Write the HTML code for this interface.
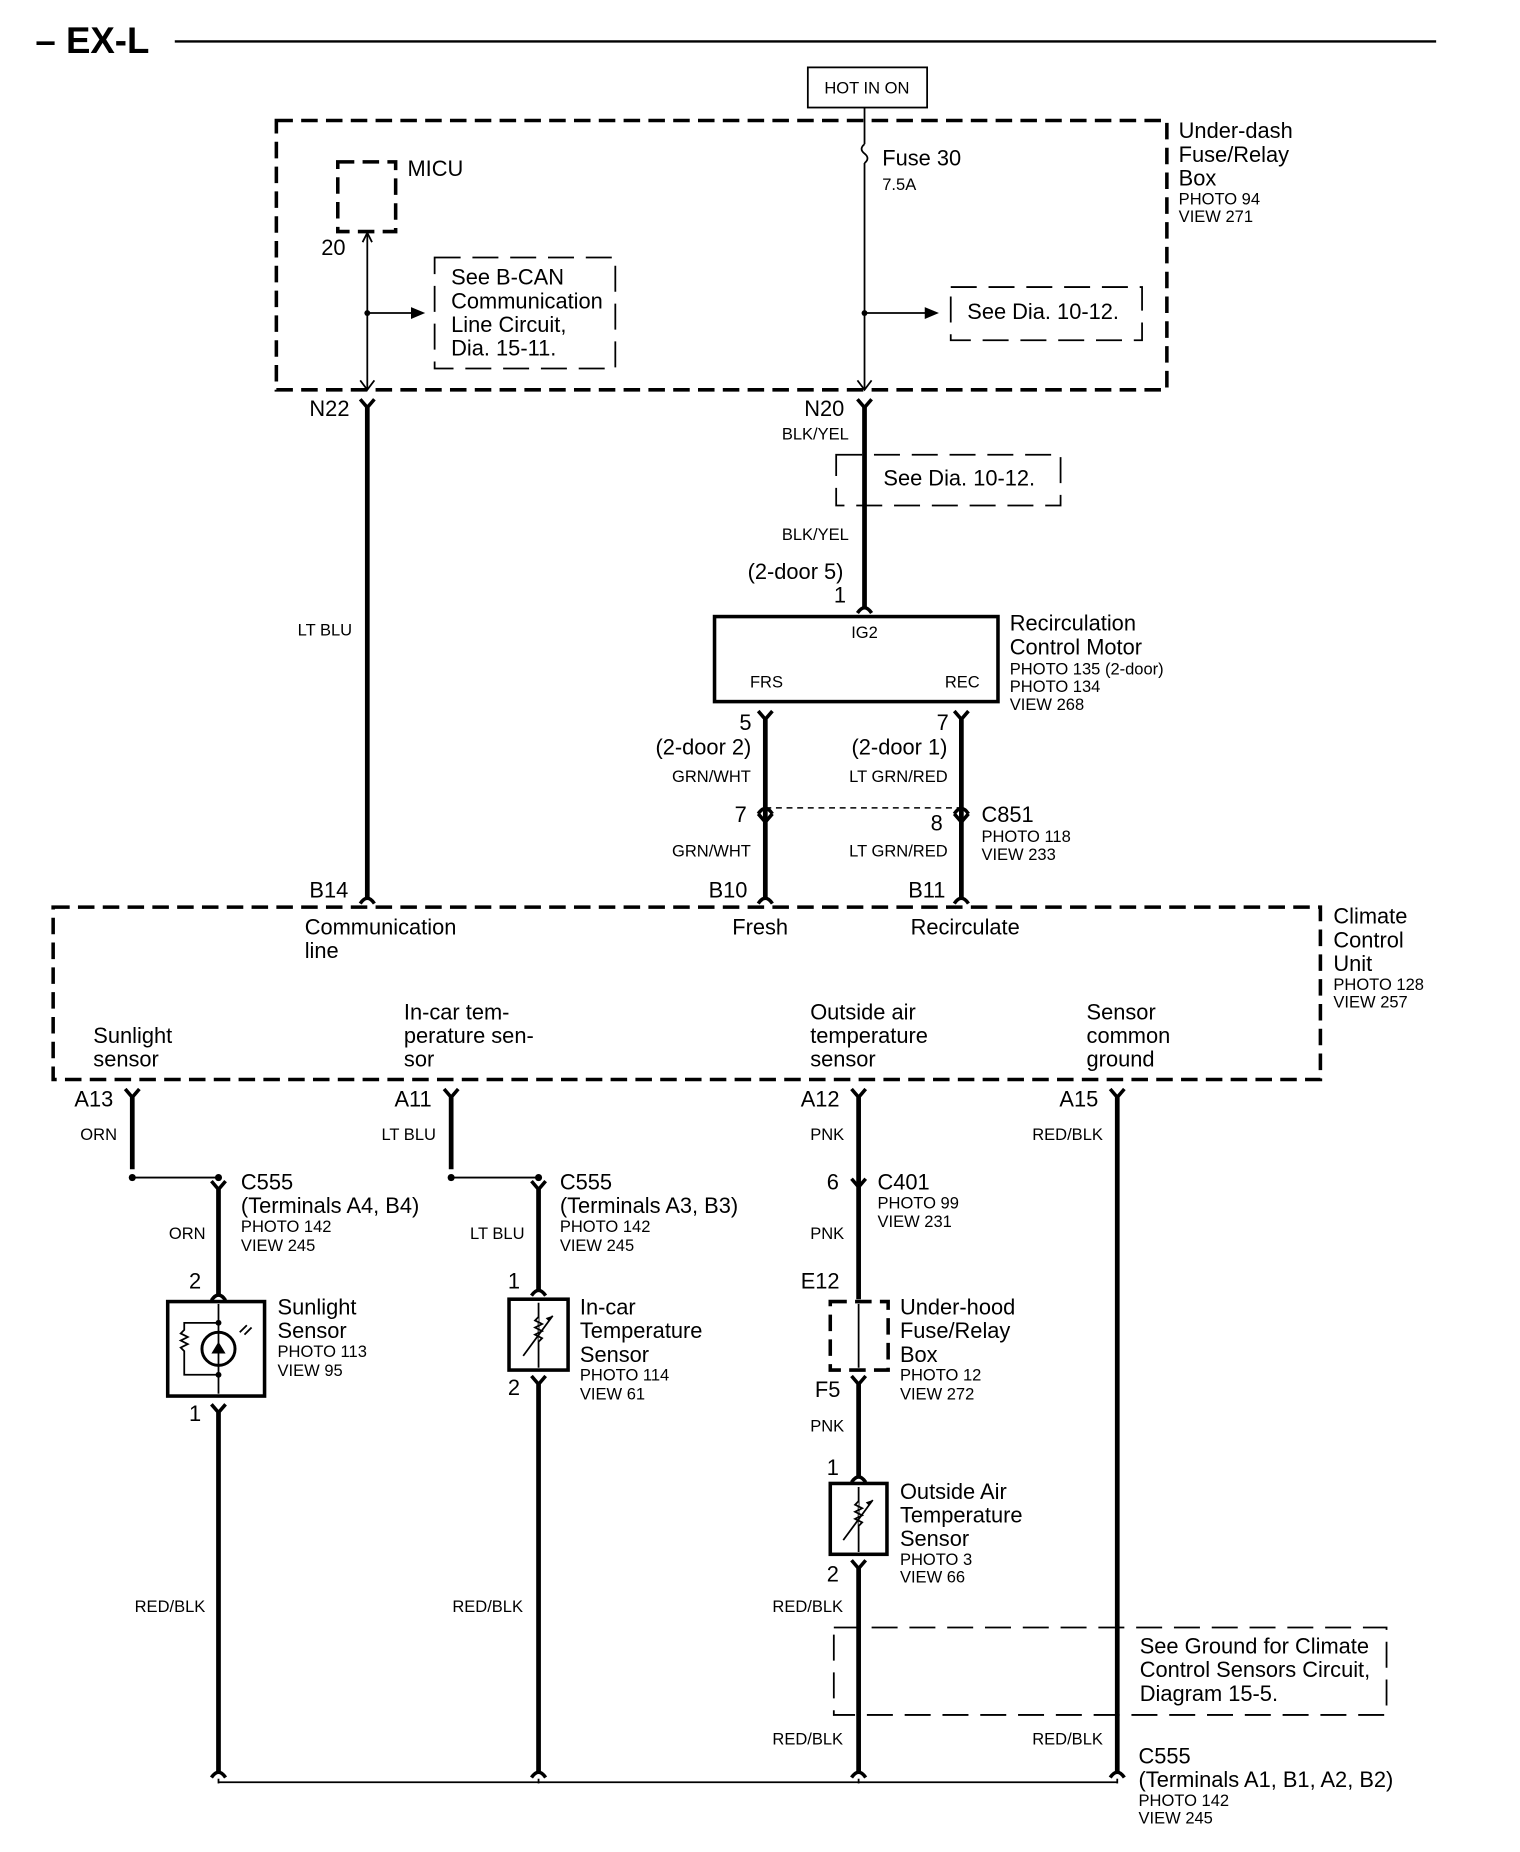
<!DOCTYPE html>
<html><head><meta charset="utf-8"><style>
html,body{margin:0;padding:0;background:#fff}
svg{display:block}
text{font-family:"Liberation Sans",Arial,sans-serif;fill:#000}
.l{font-size:18.5px}.s{font-size:14px}
.th{stroke:#000;stroke-width:4;fill:none}
.tn{stroke:#000;stroke-width:1.5;fill:none}
.db{stroke:#000;stroke-width:3;fill:none;stroke-dasharray:14 7}
.dn{stroke:#000;stroke-width:1.5;fill:none;stroke-dasharray:22 10}
.y{stroke:#000;stroke-width:3;fill:none}
</style></head><body>
<svg width="1520" height="1852" viewBox="0 0 1287 1568" xmlns="http://www.w3.org/2000/svg">
<defs>
<g id="Y"><path class="y" d="M-6,-7 L0,0 L6,-7"/></g>
<g id="A"><path class="y" d="M-6,5 Q0,-4 6,5"/></g>
<g id="ar"><path d="M0,0 L-4,8 M0,0 L4,8" stroke="#000" stroke-width="1.5" fill="none"/></g>
</defs>
<text x="30" y="45" style="font-size:31px;font-weight:bold">– EX-L</text>
<line x1="148" y1="35" x2="1216" y2="35" stroke="#000" stroke-width="2"/>
<rect x="684" y="57" width="101" height="34" class="tn"/>
<text x="734" y="79" class="s" text-anchor="middle">HOT IN ON</text>
<rect x="234" y="102" width="754" height="228" class="db"/>
<text x="998" y="117" class="l">Under-dash</text><text x="998" y="137" class="l">Fuse/Relay</text><text x="998" y="157" class="l">Box</text>
<text x="998" y="173" class="s">PHOTO 94</text><text x="998" y="188" class="s">VIEW 271</text>
<rect x="286" y="137" width="49" height="59" class="db"/>
<text x="345" y="149" class="l">MICU</text>
<text x="272" y="216" class="l">20</text>
<line x1="311" y1="196" x2="311" y2="330" class="tn"/>
<use href="#ar" x="311" y="197"/>
<path d="M305,322 L311,330 L317,322" class="tn"/>
<circle cx="311" cy="265" r="2.5"/>
<line x1="311" y1="265" x2="350" y2="265" class="tn"/><path d="M348,260 L360,265 L348,270Z"/>
<rect x="368" y="218" width="153" height="94" class="dn"/>
<text x="382" y="241" class="l">See B-CAN</text><text x="382" y="261" class="l">Communication</text><text x="382" y="281" class="l">Line Circuit,</text><text x="382" y="301" class="l">Dia. 15-11.</text>
<line x1="732" y1="91" x2="732" y2="122" class="tn"/>
<path d="M732,122 q-5,4 0,8 q5,4 0,8" class="tn"/>
<line x1="732" y1="138" x2="732" y2="330" class="tn"/>
<path d="M726,322 L732,330 L738,322" class="tn"/>
<text x="747" y="140" class="l">Fuse 30</text><text x="747" y="161" class="s">7.5A</text>
<circle cx="732" cy="265" r="2.5"/>
<line x1="732" y1="265" x2="785" y2="265" class="tn"/><path d="M783,260 L795,265 L783,270Z"/>
<rect x="805" y="243" width="162" height="45" class="dn"/>
<text x="819" y="270" class="l">See Dia. 10-12.</text>
<text x="262" y="352" class="l">N22</text><text x="681" y="352" class="l">N20</text>
<use href="#Y" x="311" y="345"/><line x1="311" y1="345" x2="311" y2="760" class="th"/>
<text x="252" y="538" class="s">LT BLU</text>
<use href="#Y" x="732" y="345"/><line x1="732" y1="345" x2="732" y2="516" class="th"/>
<text x="662" y="372" class="s">BLK/YEL</text>
<rect x="708" y="385" width="190" height="43" class="dn"/>
<text x="748" y="411" class="l">See Dia. 10-12.</text>
<text x="662" y="457" class="s">BLK/YEL</text>
<text x="633" y="490" class="l">(2-door 5)</text><text x="706" y="510" class="l">1</text>
<use href="#A" x="732" y="514"/>
<rect x="605" y="522" width="240" height="72" stroke="#000" stroke-width="3" fill="none"/>
<text x="732" y="540" class="s" text-anchor="middle">IG2</text>
<text x="635" y="582" class="s">FRS</text><text x="800" y="582" class="s">REC</text>
<text x="855" y="534" class="l">Recirculation</text><text x="855" y="554" class="l">Control Motor</text>
<text x="855" y="571" class="s">PHOTO 135 (2-door)</text><text x="855" y="586" class="s">PHOTO 134</text><text x="855" y="601" class="s">VIEW 268</text>
<use href="#Y" x="648" y="609"/><line x1="648" y1="609" x2="648" y2="760" class="th"/>
<use href="#Y" x="814" y="609"/><line x1="814" y1="609" x2="814" y2="760" class="th"/>
<text x="626" y="618" class="l">5</text><text x="555" y="639" class="l">(2-door 2)</text><text x="569" y="662" class="s">GRN/WHT</text>
<text x="793" y="618" class="l">7</text><text x="721" y="639" class="l">(2-door 1)</text><text x="719" y="662" class="s">LT GRN/RED</text>
<line x1="648" y1="684" x2="814" y2="684" stroke="#000" stroke-width="1.2" stroke-dasharray="5 4"/>
<use href="#A" x="648" y="684"/><use href="#A" x="814" y="684"/>
<use href="#Y" x="648" y="696"/><use href="#Y" x="814" y="696"/>
<text x="622" y="696" class="l">7</text><text x="788" y="703" class="l">8</text>
<text x="831" y="696" class="l">C851</text><text x="831" y="713" class="s">PHOTO 118</text><text x="831" y="728" class="s">VIEW 233</text>
<text x="569" y="725" class="s">GRN/WHT</text><text x="719" y="725" class="s">LT GRN/RED</text>
<text x="262" y="760" class="l">B14</text><text x="600" y="760" class="l">B10</text><text x="769" y="760" class="l">B11</text>
<use href="#A" x="311" y="760"/><use href="#A" x="648" y="760"/><use href="#A" x="814" y="760"/>
<rect x="45" y="768" width="1073" height="146" class="db"/>
<text x="258" y="791" class="l">Communication</text><text x="258" y="811" class="l">line</text>
<text x="620" y="791" class="l">Fresh</text><text x="771" y="791" class="l">Recirculate</text>
<text x="1129" y="782" class="l">Climate</text><text x="1129" y="802" class="l">Control</text><text x="1129" y="822" class="l">Unit</text>
<text x="1129" y="838" class="s">PHOTO 128</text><text x="1129" y="853" class="s">VIEW 257</text>
<text x="79" y="883" class="l">Sunlight</text><text x="79" y="903" class="l">sensor</text>
<text x="342" y="863" class="l">In-car tem-</text><text x="342" y="883" class="l">perature sen-</text><text x="342" y="903" class="l">sor</text>
<text x="686" y="863" class="l">Outside air</text><text x="686" y="883" class="l">temperature</text><text x="686" y="903" class="l">sensor</text>
<text x="920" y="863" class="l">Sensor</text><text x="920" y="883" class="l">common</text><text x="920" y="903" class="l">ground</text>
<text x="63" y="937" class="l">A13</text><text x="334" y="937" class="l">A11</text><text x="678" y="937" class="l">A12</text><text x="897" y="937" class="l">A15</text>
<use href="#Y" x="112" y="929"/><line x1="112" y1="929" x2="112" y2="990" class="th"/>
<use href="#Y" x="382" y="929"/><line x1="382" y1="929" x2="382" y2="990" class="th"/>
<use href="#Y" x="727" y="929"/><line x1="727" y1="929" x2="727" y2="1100" class="th"/>
<use href="#Y" x="946" y="929"/><line x1="946" y1="929" x2="946" y2="1500" class="th"/>
<text x="68" y="965" class="s">ORN</text><text x="323" y="965" class="s">LT BLU</text><text x="686" y="965" class="s">PNK</text><text x="874" y="965" class="s">RED/BLK</text>
<line x1="112" y1="997" x2="185" y2="997" class="tn"/><circle cx="112" cy="997" r="3"/>
<line x1="382" y1="997" x2="456" y2="997" class="tn"/><circle cx="382" cy="997" r="3"/>
<circle cx="185" cy="997" r="3"/><use href="#Y" x="185" y="1007"/>
<circle cx="456" cy="997" r="3"/><use href="#Y" x="456" y="1007"/>
<text x="204" y="1007" class="l">C555</text><text x="204" y="1027" class="l">(Terminals A4, B4)</text><text x="204" y="1043" class="s">PHOTO 142</text><text x="204" y="1059" class="s">VIEW 245</text>
<text x="474" y="1007" class="l">C555</text><text x="474" y="1027" class="l">(Terminals A3, B3)</text><text x="474" y="1043" class="s">PHOTO 142</text><text x="474" y="1059" class="s">VIEW 245</text>
<line x1="185" y1="1007" x2="185" y2="1096" class="th"/><use href="#A" x="185" y="1096"/>
<line x1="456" y1="1007" x2="456" y2="1092" class="th"/><use href="#A" x="456" y="1092"/>
<text x="143" y="1049" class="s">ORN</text><text x="398" y="1049" class="s">LT BLU</text>
<text x="160" y="1091" class="l">2</text><text x="430" y="1091" class="l">1</text>
<rect x="142" y="1102" width="82" height="80" stroke="#000" stroke-width="3" fill="none"/>
<line x1="185" y1="1104" x2="185" y2="1180" class="tn"/>
<circle cx="185" cy="1142" r="14" stroke="#000" stroke-width="2.5" fill="#fff"/>
<path d="M179,1146 L191,1146 L185,1136Z M179,1136 L191,1136"/><line x1="185" y1="1128" x2="185" y2="1156" class="tn"/>
<path d="M185,1120 L156,1120 L156,1126 l-3,3 l6,3 l-6,3 l6,3 l-6,3 l3,3 L156,1164 L185,1164" class="tn"/>
<circle cx="185" cy="1120" r="2.5"/><circle cx="185" cy="1164" r="2.5"/>
<path d="M203,1128 l6,-6 M207,1130 l6,-6" class="tn"/>
<use href="#Y" x="185" y="1196"/><line x1="185" y1="1196" x2="185" y2="1500" class="th"/>
<text x="160" y="1203" class="l">1</text>
<text x="235" y="1113" class="l">Sunlight</text><text x="235" y="1133" class="l">Sensor</text><text x="235" y="1149" class="s">PHOTO 113</text><text x="235" y="1165" class="s">VIEW 95</text>
<rect x="431" y="1100" width="50" height="60" stroke="#000" stroke-width="3" fill="none"/>
<line x1="456" y1="1103" x2="456" y2="1158" class="tn"/>
<path d="M456,1115 l-3,3 l6,3 l-6,3 l6,3 l-6,3 l6,3 l-3,3" stroke="#000" stroke-width="1.5" fill="#fff"/>
<line x1="443" y1="1148" x2="468" y2="1114" class="tn"/><path d="M468,1114 l-6,2 l3,3z"/>
<use href="#Y" x="456" y="1172"/><line x1="456" y1="1172" x2="456" y2="1500" class="th"/>
<text x="430" y="1181" class="l">2</text>
<text x="491" y="1113" class="l">In-car</text><text x="491" y="1133" class="l">Temperature</text><text x="491" y="1153" class="l">Sensor</text><text x="491" y="1169" class="s">PHOTO 114</text><text x="491" y="1185" class="s">VIEW 61</text>
<use href="#Y" x="727" y="1005"/>
<text x="700" y="1007" class="l">6</text><text x="743" y="1007" class="l">C401</text><text x="743" y="1023" class="s">PHOTO 99</text><text x="743" y="1039" class="s">VIEW 231</text>
<text x="686" y="1049" class="s">PNK</text><text x="678" y="1091" class="l">E12</text>
<rect x="703" y="1102" width="49" height="58" class="db"/>
<line x1="727" y1="1104" x2="727" y2="1158" class="tn"/>
<use href="#Y" x="727" y="1172"/><line x1="727" y1="1172" x2="727" y2="1250" class="th"/>
<text x="690" y="1183" class="l">F5</text>
<text x="762" y="1113" class="l">Under-hood</text><text x="762" y="1133" class="l">Fuse/Relay</text><text x="762" y="1153" class="l">Box</text><text x="762" y="1169" class="s">PHOTO 12</text><text x="762" y="1185" class="s">VIEW 272</text>
<text x="686" y="1212" class="s">PNK</text><text x="700" y="1249" class="l">1</text>
<use href="#A" x="727" y="1250"/>
<rect x="703" y="1256" width="48" height="60" stroke="#000" stroke-width="3" fill="none"/>
<line x1="727" y1="1259" x2="727" y2="1314" class="tn"/>
<path d="M727,1271 l-3,3 l6,3 l-6,3 l6,3 l-6,3 l6,3 l-3,3" stroke="#000" stroke-width="1.5" fill="#fff"/>
<line x1="714" y1="1304" x2="739" y2="1270" class="tn"/><path d="M739,1270 l-6,2 l3,3z"/>
<use href="#Y" x="727" y="1328"/><line x1="727" y1="1328" x2="727" y2="1500" class="th"/>
<text x="700" y="1339" class="l">2</text>
<text x="762" y="1269" class="l">Outside Air</text><text x="762" y="1289" class="l">Temperature</text><text x="762" y="1309" class="l">Sensor</text><text x="762" y="1325" class="s">PHOTO 3</text><text x="762" y="1340" class="s">VIEW 66</text>
<text x="114" y="1365" class="s">RED/BLK</text><text x="383" y="1365" class="s">RED/BLK</text><text x="654" y="1365" class="s">RED/BLK</text>
<rect x="706" y="1378" width="468" height="74" class="dn"/>
<text x="965" y="1400" class="l">See Ground for Climate</text><text x="965" y="1420" class="l">Control Sensors Circuit,</text><text x="965" y="1440" class="l">Diagram 15-5.</text>
<text x="654" y="1477" class="s">RED/BLK</text><text x="874" y="1477" class="s">RED/BLK</text>
<use href="#A" x="185" y="1500"/><use href="#A" x="456" y="1500"/><use href="#A" x="727" y="1500"/><use href="#A" x="946" y="1500"/>
<line x1="185" y1="1506" x2="185" y2="1510" class="tn"/><line x1="456" y1="1506" x2="456" y2="1510" class="tn"/><line x1="727" y1="1506" x2="727" y2="1510" class="tn"/><line x1="946" y1="1506" x2="946" y2="1510" class="tn"/>
<line x1="185" y1="1509" x2="946" y2="1509" class="tn"/>
<text x="964" y="1493" class="l">C555</text><text x="964" y="1513" class="l">(Terminals A1, B1, A2, B2)</text><text x="964" y="1529" class="s">PHOTO 142</text><text x="964" y="1544" class="s">VIEW 245</text>
</svg>
</body></html>
